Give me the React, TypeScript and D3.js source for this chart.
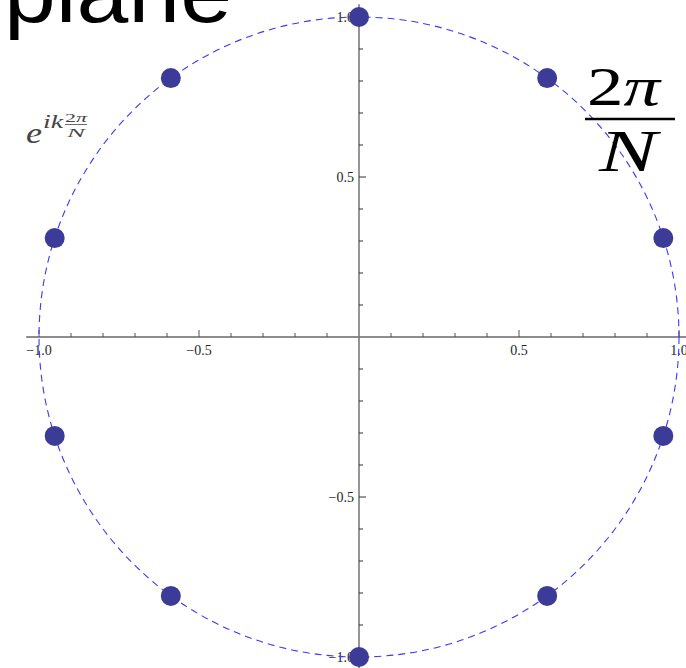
import React from "react";
import * as d3 from "d3";

// N-th roots of unity for N = 10 (real and imaginary parts)
const rootRe = [0, 0.588, 0.951, 0.951, 0.588, 0, -0.588, -0.951, -0.951, -0.588];
const rootIm = [1, 0.809, 0.309, -0.309, -0.809, -1, -0.809, -0.309, 0.309, 0.809];

const majorTicks = [-1, -0.5, 0.5, 1];
const majorLabels = ["\u22121.0", "\u22120.5", "0.5", "1.0"];
const minorTicks = [-0.9, -0.8, -0.7, -0.6, -0.4, -0.3, -0.2, -0.1, 0.1, 0.2, 0.3, 0.4, 0.6, 0.7, 0.8, 0.9];

const W = 686;
const H = 668;

export default function App() {
  const x = d3.scaleLinear().domain([-1, 1]).range([39, 679]);
  const y = d3.scaleLinear().domain([-1, 1]).range([657, 17]);
  const r = x(1) - x(0);
  const serif = "'Liberation Serif', 'Times New Roman', serif";
  const labelColor = "#262626";

  return (
    <svg
      width={W}
      height={H}
      style={{ position: "absolute", left: 0, top: 0, background: "#fff" }}
    >
      {/* axes */}
      <line x1={x(-1.04)} x2={x(1.04)} y1={y(0)} y2={y(0)} stroke="#1a1a1a" strokeWidth={1} />
      <line x1={x(0)} x2={x(0)} y1={y(1.04)} y2={y(-1.04)} stroke="#7a7a7a" strokeWidth={1.6} />

      {/* x ticks (upward) */}
      {majorTicks.map((t) => (
        <line key={"xM" + t} x1={x(t)} x2={x(t)} y1={y(0)} y2={y(0) - 7} stroke="#555" strokeWidth={1} />
      ))}
      {minorTicks.map((t) => (
        <line key={"xm" + t} x1={x(t)} x2={x(t)} y1={y(0)} y2={y(0) - 4} stroke="#555" strokeWidth={1} />
      ))}
      {/* y ticks (rightward) */}
      {majorTicks.map((t) => (
        <line key={"yM" + t} x1={x(0)} x2={x(0) + 7} y1={y(t)} y2={y(t)} stroke="#333" strokeWidth={1} />
      ))}
      {minorTicks.map((t) => (
        <line key={"ym" + t} x1={x(0)} x2={x(0) + 4} y1={y(t)} y2={y(t)} stroke="#333" strokeWidth={1} />
      ))}

      {/* tick labels */}
      {majorTicks.map((t, i) => (
        <text
          key={"xl" + t}
          x={x(t)}
          y={y(0) + 18}
          textAnchor="middle"
          fontFamily={serif}
          fontSize={14}
          fill={labelColor}
        >
          {majorLabels[i]}
        </text>
      ))}
      {majorTicks.map((t, i) => (
        <text
          key={"yl" + t}
          x={x(0) - 5}
          y={y(t) + 5}
          textAnchor="end"
          fontFamily={serif}
          fontSize={14}
          fill={labelColor}
        >
          {majorLabels[i]}
        </text>
      ))}

      {/* unit circle */}
      <circle
        cx={x(0)}
        cy={y(0)}
        r={r}
        fill="none"
        stroke="#3838ff"
        strokeWidth={1.1}
        strokeDasharray="7,5"
      />

      {/* roots */}
      {rootRe.map((re, i) => (
        <circle key={"p" + i} cx={x(re)} cy={y(rootIm[i])} r={10} fill="#3c3c98" />
      ))}

      {/* title fragment */}
      <text
        x={4}
        y={22}
        fontFamily="'Liberation Sans', Arial, sans-serif"
        fontSize={86}
        fill="#000"
        textLength={228}
        lengthAdjust="spacingAndGlyphs"
      >
        plane
      </text>

      {/* e^{ik 2π/N} */}
      <g fontFamily={serif} fill="#444">
        <text x={26} y={143} fontSize={30} fontStyle="italic" textLength={16} lengthAdjust="spacingAndGlyphs">e</text>
        <text x={43} y={128} fontSize={19} fontStyle="italic" textLength={20} lengthAdjust="spacingAndGlyphs">ik</text>
        <text x={65} y={122} fontSize={13} textLength={22} lengthAdjust="spacingAndGlyphs">
          2<tspan fontStyle="italic">π</tspan>
        </text>
        <line x1={65} x2={87} y1={124.5} y2={124.5} stroke="#444" strokeWidth={0.8} />
        <text x={67} y={137} fontSize={13} fontStyle="italic" textLength={18} lengthAdjust="spacingAndGlyphs">N</text>
      </g>

      {/* 2π/N */}
      <g fontFamily={serif} fill="#000">
        <text x={587} y={105} fontSize={54} textLength={73} lengthAdjust="spacingAndGlyphs">
          2<tspan fontStyle="italic">π</tspan>
        </text>
        <line x1={585} x2={675} y1={119} y2={119} stroke="#000" strokeWidth={2.5} />
        <text x={599} y={171} fontSize={60} fontStyle="italic" textLength={58} lengthAdjust="spacingAndGlyphs">N</text>
      </g>
    </svg>
  );
}
